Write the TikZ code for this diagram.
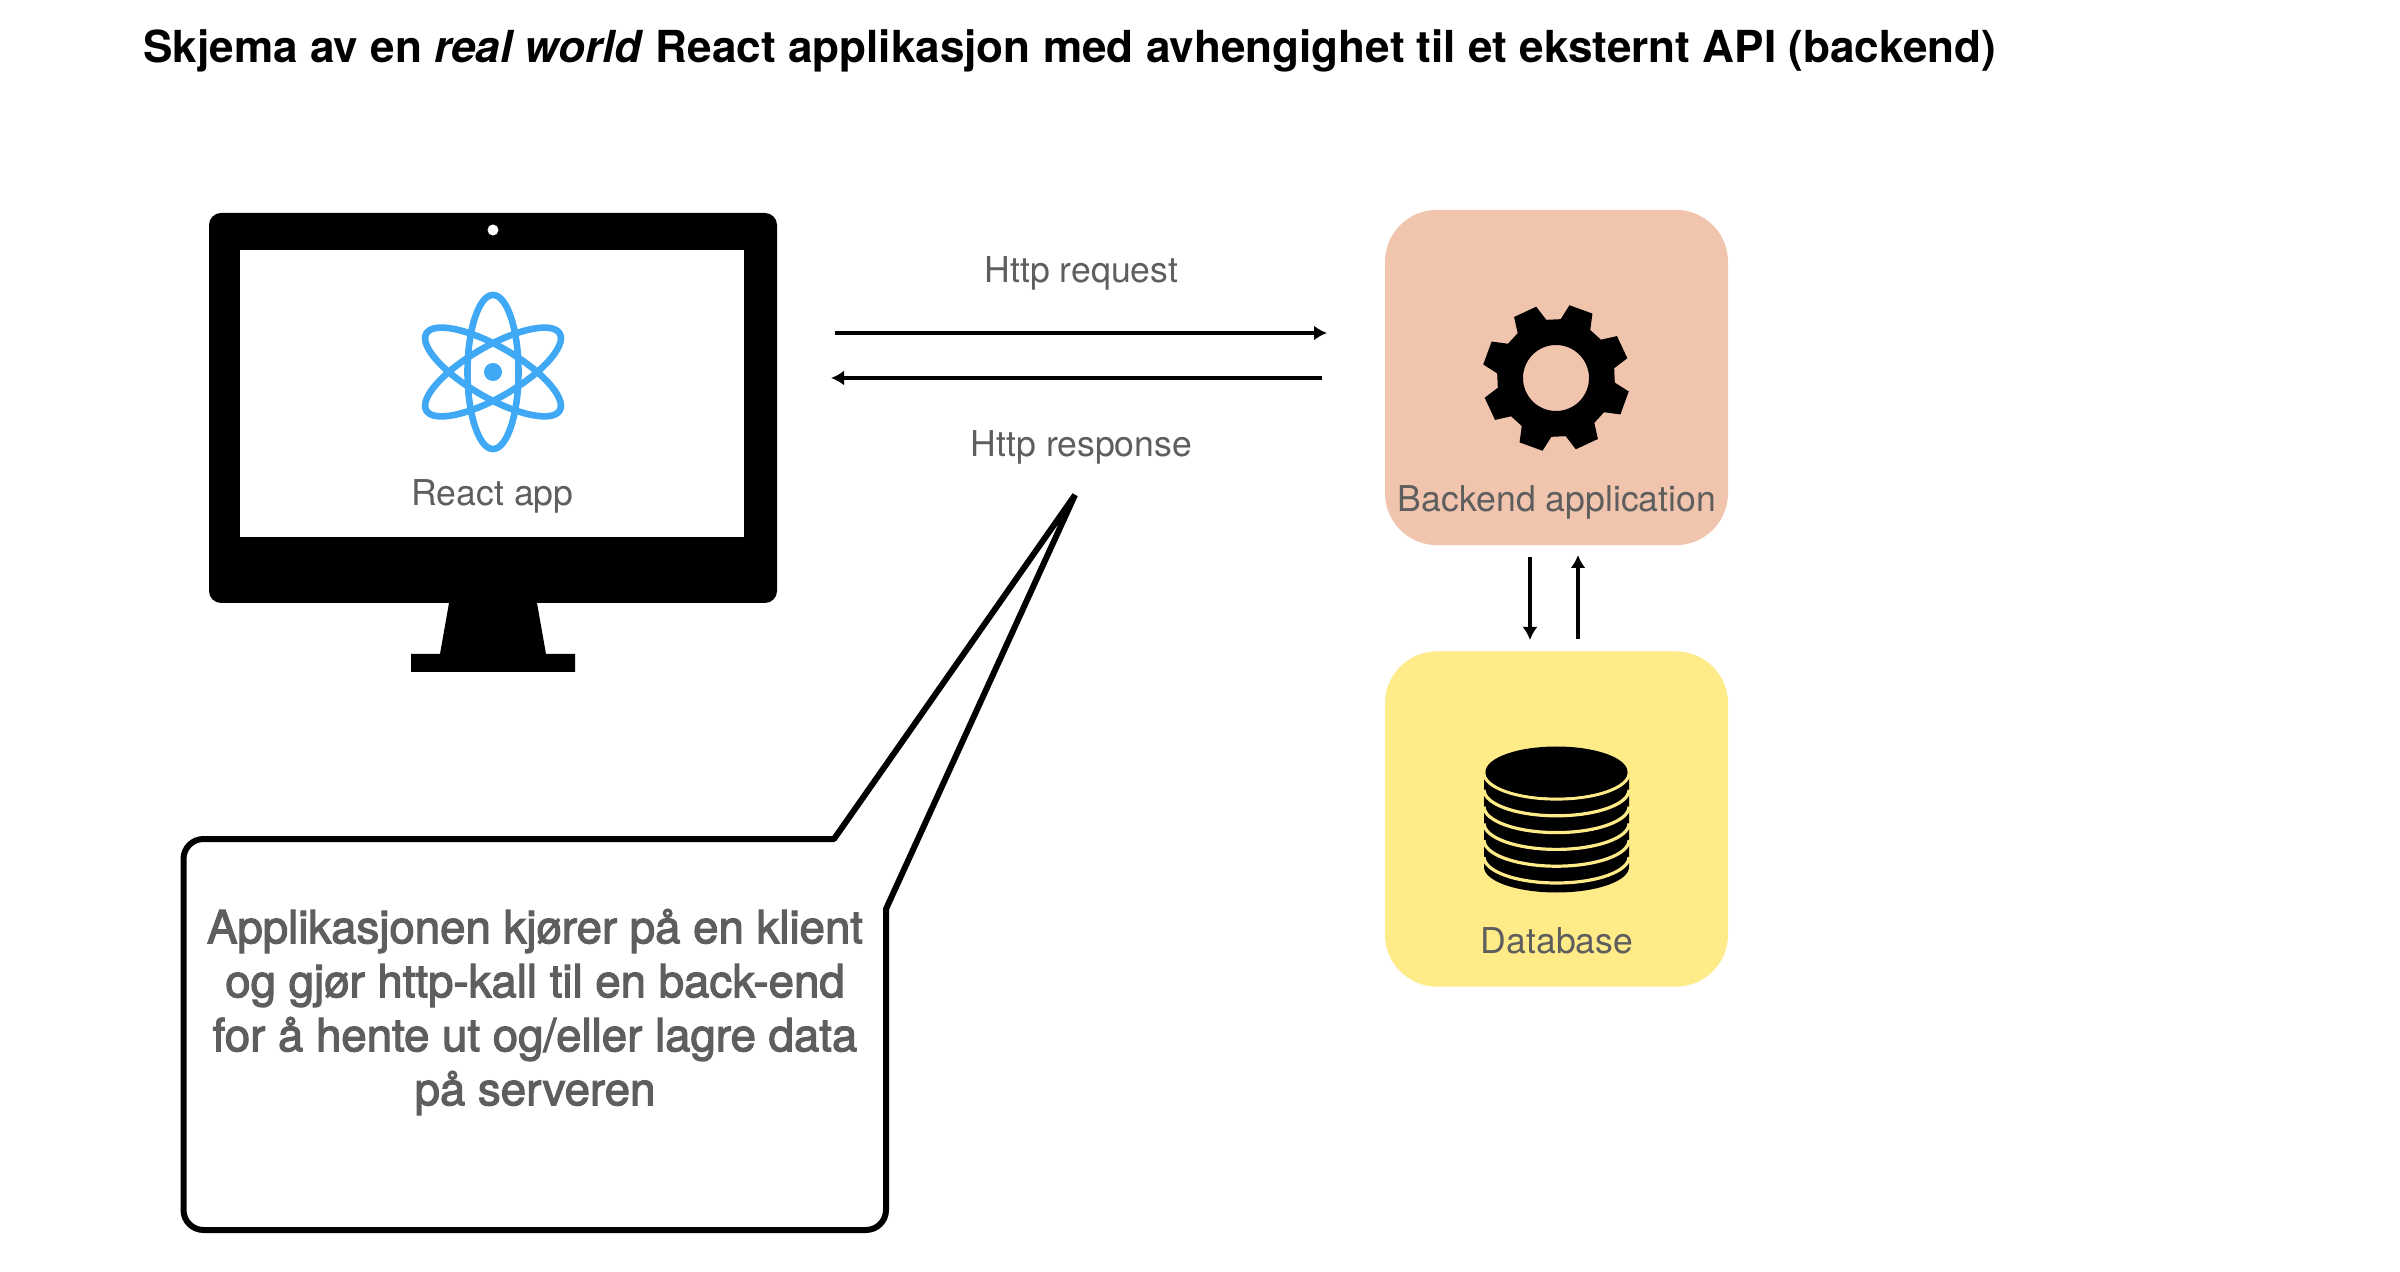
\documentclass[tikz,border=0pt]{standalone}
\usepackage{fontspec}
\usetikzlibrary{arrows.meta}
\setmainfont{TeX Gyre Heros}
\newfontfamily\calloutfont[FakeBold=2.6]{TeX Gyre Heros}
\definecolor{labelgray}{HTML}{5E5E5E}
\definecolor{backendfill}{HTML}{F1C5AD}
\definecolor{databasefill}{HTML}{FFEB87}
\definecolor{reactblue}{HTML}{3FA9F5}
\tikzset{
  box/.style={rounded corners=26pt, minimum width=171.5pt, minimum height=167.6pt},
  label/.style={text=labelgray, anchor=base, inner sep=0pt, font=\fontsize{17.8}{21}\selectfont},
  flow/.style={-{Latex[length=6.5pt,width=7.5pt]}, line width=1.7pt},
}
\begin{document}
\begin{tikzpicture}[x=0.5pt, y=0.5pt]
\useasboundingbox (0,0) rectangle (2400,-1272);

% Title
\node[anchor=base west, inner sep=0pt, font=\fontsize{22.05}{26}\selectfont\bfseries] (title) at (143,-63) {Skjema av en \textit{real world} React applikasjon med avhengighet til et eksternt API (backend)};

% Monitor
\node[fill=black, rounded corners=6pt, minimum width=284pt, minimum height=195pt] (monitor) at (493,-408) {};
\node[fill=white, inner sep=0pt, minimum width=252pt, minimum height=143.5pt] (screen) at (492,-393.5) {};
\node[circle, fill=white, inner sep=0pt, minimum size=5.5pt] (camera) at (493,-230) {};
\fill (449,-603) -- (537,-603) -- (546,-654) -- (575,-654) -- (575,-672) -- (411,-672) -- (411,-654) -- (440,-654) -- cycle;

% React logo
\foreach \angle in {90,30,-30}
  \draw[reactblue, line width=3.3pt, rotate around={\angle:(493,-372)}] (493,-372) ellipse [x radius=77, y radius=25.5];
\node[circle, fill=reactblue, inner sep=0pt, minimum size=9pt] (nucleus) at (493,-372) {};
\node[label] (reactlabel) at (492.5,-506) {React app};

% Backend and database
\node[box, fill=backendfill] (backend) at (1556.5,-377.5) {};
\node[box, fill=databasefill] (database) at (1556.5,-819) {};
\node[label] (backendlabel) at (1557,-512) {Backend application};
\node[label] (databaselabel) at (1557,-953) {Database};

% Gear
\fill[even odd rule, shift={(1556,-378)}] (9.5:59)
  \foreach \a in {25,70,...,340} { -- (\a-15.5:59) -- (\a-9.5:74) -- (\a+9.5:74) -- (\a+15.5:59) }
  -- cycle (0,0) circle [radius=33];

% Database stack
\fill (1484,-773) -- (1629,-773) -- (1629,-867) arc [start angle=0, end angle=-180, x radius=72.5, y radius=25.5] -- cycle;
\foreach \k in {0,...,5}
  \draw[databasefill, line width=1.6pt] (1629,-773-16.8*\k) arc [start angle=0, end angle=-180, x radius=72.5, y radius=26];
\fill (1556.5,-772) ellipse [x radius=71, y radius=25.5];

% Arrows
\coordinate (reqstart) at (835,-333);
\coordinate (reqend) at (1327,-333);
\coordinate (resstart) at (1322,-378);
\coordinate (resend) at (831,-378);
\coordinate (querystart) at (1530,-557);
\coordinate (queryend) at (1530,-640);
\coordinate (replystart) at (1578,-639);
\coordinate (replyend) at (1578,-555);
\draw[flow] (reqstart) -- (reqend);
\draw[flow] (resstart) -- (resend);
\draw[flow] (querystart) -- (queryend);
\draw[flow] (replystart) -- (replyend);
\node[label] (requestlabel) at (1081.5,-283) {Http request};
\node[label] (responselabel) at (1081.5,-457) {Http response};

% Callout
\coordinate (tailA) at (834,-839);
\coordinate (tip) at (1075,-495);
\coordinate (tailB) at (886,-909);
\coordinate (br) at (886,-1230);
\coordinate (bl) at (183.5,-1230);
\coordinate (tl) at (183.5,-839);
\draw[line width=3pt, line join=bevel] (tailA) -- (tip) -- (tailB) [rounded corners=10pt] -- (br) -- (bl) -- (tl) [sharp corners] -- (tailA) -- cycle;
\node[align=center, text=labelgray, font=\calloutfont\fontsize{22.8}{27}\selectfont] (callouttext) at (535,-1012) {Applikasjonen kjører på en klient\\og gjør http-kall til en back-end\\for å hente ut og/eller lagre data\\på serveren};
\end{tikzpicture}
\end{document}
